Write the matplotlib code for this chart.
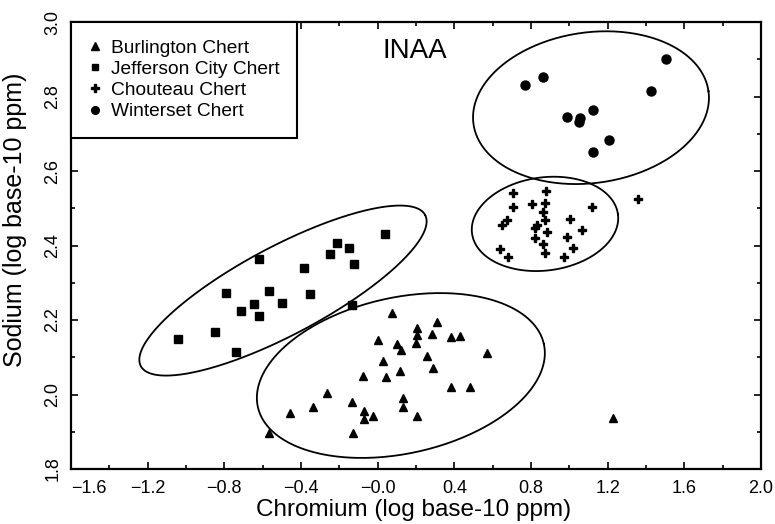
import numpy as np
import matplotlib
matplotlib.use("Agg")
import matplotlib.pyplot as plt

plt.rcParams['font.family'] = ['Liberation Sans', 'DejaVu Sans']

# Burlington Chert (triangles)
burl_x = [0.076, 0.311, 0.203, 0.203, 0.285, 0.382, 0.429, 0.000, 0.099, 0.200,
          0.121, 0.568, 0.255, 0.029, 0.290, 0.119, -0.075, 0.041, 0.382, 0.481,
          -0.263, 0.133, 0.133, -0.136, -0.340, -0.458, -0.069, -0.024, -0.072, 0.203,
          -0.131, -0.566, 1.227]
burl_y = [2.220, 2.195, 2.178, 2.160, 2.162, 2.155, 2.157, 2.146, 2.136, 2.137,
          2.119, 2.111, 2.104, 2.090, 2.072, 2.064, 2.050, 2.048, 2.019, 2.021,
          2.003, 1.990, 1.967, 1.981, 1.967, 1.950, 1.957, 1.943, 1.933, 1.942,
          1.896, 1.897, 1.937]

# Jefferson City Chert (squares)
jeff_x = [0.038, -0.211, -0.150, -0.249, -0.123, -0.619, -0.385, -0.791, -0.567,
          -0.645, -0.501, -0.352, -0.715, -0.619, -0.136, -0.849, -1.043, -0.739]
jeff_y = [2.430, 2.408, 2.392, 2.377, 2.350, 2.364, 2.339, 2.272, 2.278,
          2.243, 2.246, 2.269, 2.225, 2.210, 2.240, 2.168, 2.148, 2.113]

# Chouteau Chert (crosses)
chou_x = [0.704, 0.878, 0.707, 0.803, 0.873, 0.864, 1.116, 1.359, 0.673, 0.647,
          0.873, 0.829, 0.820, 1.003, 1.064, 0.885, 0.820, 0.989, 0.860, 1.017,
          0.638, 0.681, 0.873, 0.974]
chou_y = [2.540, 2.546, 2.504, 2.511, 2.513, 2.491, 2.503, 2.524, 2.468, 2.455,
          2.468, 2.455, 2.446, 2.470, 2.442, 2.435, 2.421, 2.422, 2.403, 2.392,
          2.391, 2.368, 2.379, 2.370]

# Winterset Chert (circles)
wint_x = [1.504, 1.426, 0.864, 0.768, 1.125, 0.989, 1.055, 1.052, 1.208, 1.121]
wint_y = [2.900, 2.815, 2.853, 2.831, 2.764, 2.746, 2.741, 2.731, 2.683, 2.651]

# group ellipses: centre x, centre y, semi-axes (x units), tilt in degrees
ell_cx = [0.121, -0.494, 0.873, 1.113]
ell_cy = [2.051, 2.279, 2.458, 2.770]
ell_a = [0.764, 0.840, 0.384, 0.619]
ell_b = [0.407, 0.230, 0.243, 0.393]
ell_ang = [12.4, 28.0, 7.5, 8.0]

x_ticks = [-1.6, -1.2, -0.8, -0.4, 0.0, 0.4, 0.8, 1.2, 1.6, 2.0]
x_labels = ['\u22121.6', '\u22121.2', '\u22120.8', '\u22120.4', '\u22120.0',
            '0.4', '0.8', '1.2', '1.6', '2.0']
y_ticks = [1.8, 2.0, 2.2, 2.4, 2.6, 2.8, 3.0]


def ellipse_xy(cx, cy, a, b, ang, k):
    t = np.linspace(0, 2 * np.pi, 300)
    th = np.radians(ang)
    u = a * np.cos(t)
    v = b * np.sin(t)
    X = u * np.cos(th) - v * np.sin(th)
    Y = u * np.sin(th) + v * np.cos(th)
    return cx + X, cy + Y / k


fig = plt.figure(figsize=(7.75, 5.24), dpi=100)
pos = [71 / 775, 55 / 524, 690 / 775, 447 / 524]
ax = fig.add_axes(pos)
ax.set_xlim(-1.6, 2.0)
ax.set_ylim(1.8, 3.0)

# ratio of pixels per y unit to pixels per x unit
k = (pos[3] * 524 / 1.2) / (pos[2] * 775 / 3.6)
for cx, cy, a, b, ang in zip(ell_cx, ell_cy, ell_a, ell_b, ell_ang):
    ex, ey = ellipse_xy(cx, cy, a, b, ang, k)
    ax.plot(ex, ey, color='black', lw=1.3)

ax.plot(burl_x, burl_y, '^', color='black', ms=6, ls='none', label='Burlington Chert')
ax.plot(jeff_x, jeff_y, 's', color='black', ms=5.5, ls='none', label='Jefferson City Chert')
ax.plot(chou_x, chou_y, 'P', color='black', ms=6, ls='none', label='Chouteau Chert')
ax.plot(wint_x, wint_y, 'o', color='black', ms=6.5, ls='none', label='Winterset Chert')

leg = ax.legend(loc='upper left', borderaxespad=0, fancybox=False, fontsize=13.8,
                handlelength=0.7, handletextpad=0.5, labelspacing=0.2,
                borderpad=0.9, markerscale=0.85)
leg.get_frame().set_edgecolor('black')
leg.get_frame().set_linewidth(1.5)
leg.get_frame().set_alpha(1)

ax.text(0.4986, 0.935, 'INAA', transform=ax.transAxes, ha='center', va='center',
        fontsize=20)

ax.set_xticks(x_ticks)
ax.set_xticklabels(x_labels)
ax.set_xticks(np.arange(-1.6, 2.01, 0.2), minor=True)
ax.set_yticks(y_ticks)
ax.set_yticklabels(['%.1f' % v for v in y_ticks], rotation=90, va='center')
ax.set_yticks(np.arange(1.8, 3.01, 0.1), minor=True)
ax.tick_params(which='both', direction='in', top=True, right=True, labelsize=13,
               width=1.2, color='black')
ax.tick_params(which='major', length=5)
ax.tick_params(which='minor', length=3)
ax.tick_params(axis='x', pad=8)
ax.tick_params(axis='y', pad=7)
ax.get_xticklabels()[0].set_horizontalalignment('left')

for s in ax.spines.values():
    s.set_linewidth(1.6)

ax.set_xlabel('Chromium (log base-10 ppm)', fontsize=17.5)
ax.set_ylabel('Sodium (log base-10 ppm)', fontsize=18)
ax.xaxis.set_label_coords(0.496, -0.066)
ax.yaxis.set_label_coords(-0.064, 0.557)

fig.savefig('out.png', dpi=100)
